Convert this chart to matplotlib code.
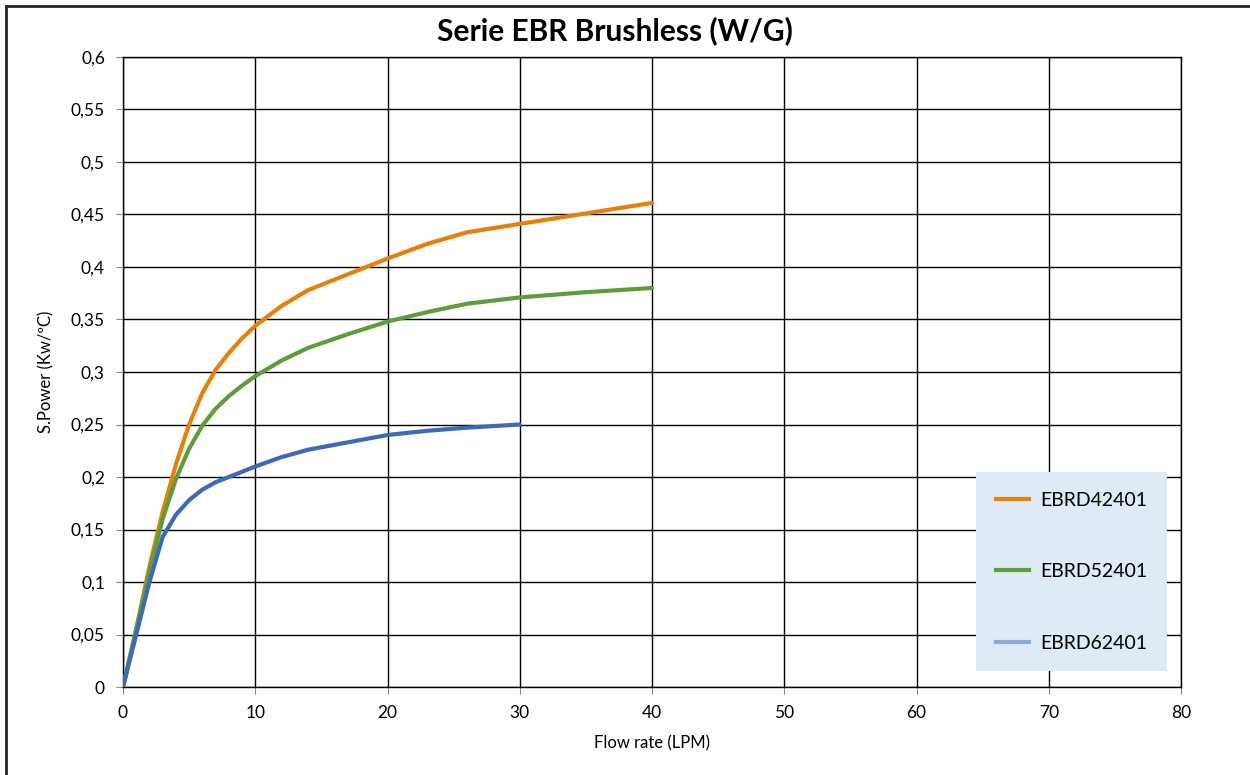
import matplotlib.pyplot as plt
from matplotlib.lines import Line2D
from matplotlib.patches import Rectangle
from matplotlib.ticker import FuncFormatter

plt.rcParams['font.family'] = ['Lato', 'DejaVu Sans']

# values
x_42 = [0, 1, 2, 3, 4, 5, 6, 7, 8, 9, 10, 12, 14, 17, 20, 23, 26, 30, 35, 40]
y_42 = [0, 0.055, 0.115, 0.167, 0.212, 0.25, 0.28, 0.302, 0.318, 0.332, 0.344,
        0.363, 0.378, 0.393, 0.408, 0.422, 0.433, 0.441, 0.451, 0.461]

x_52 = [0, 1, 2, 3, 4, 5, 6, 7, 8, 9, 10, 12, 14, 17, 20, 23, 26, 30, 35, 40]
y_52 = [0, 0.055, 0.11, 0.16, 0.198, 0.227, 0.249, 0.265, 0.277, 0.287, 0.296,
        0.311, 0.323, 0.336, 0.348, 0.357, 0.365, 0.371, 0.376, 0.38]

x_62 = [0, 1, 2, 3, 4, 5, 6, 7, 8, 9, 10, 12, 14, 17, 20, 23, 26, 30]
y_62 = [0, 0.05, 0.1, 0.143, 0.164, 0.178, 0.188, 0.195, 0.2, 0.205, 0.21,
        0.219, 0.226, 0.233, 0.240, 0.244, 0.247, 0.25]

labels = ['EBRD42401', 'EBRD52401', 'EBRD62401']
line_colors = ['#E6800A', '#5E9C3C', '#3D69B5']
legend_colors = ['#E6800A', '#5E9C3C', '#8FA9DB']

fig = plt.figure(figsize=(12.5, 7.75), dpi=100)
ax = fig.add_axes([0.0984, 0.1135, 0.8464, 0.813])

for xs, ys, c in zip([x_42, x_52, x_62], [y_42, y_52, y_62], line_colors):
    ax.plot(xs, ys, color=c, lw=3, solid_capstyle='round',
            solid_joinstyle='round', zorder=3)

ax.set_xlim(0, 80)
ax.set_ylim(0, 0.6)
ax.set_xticks(range(0, 81, 10))
ax.set_yticks([i * 0.05 for i in range(13)])

def comma(v, pos):
    s = ('%.2f' % v).rstrip('0').rstrip('.')
    return s.replace('.', ',')

ax.yaxis.set_major_formatter(FuncFormatter(comma))
ax.grid(True, color='black', lw=1)
ax.set_axisbelow(True)
for sp in ax.spines.values():
    sp.set_color('black')
    sp.set_linewidth(1)
ax.tick_params(axis='both', labelsize=12.5, length=5, color='#888888', pad=8)

ax.set_xlabel('Flow rate (LPM)', fontsize=12, labelpad=10)
ax.set_ylabel('S.Power (Kw/ºC)', fontsize=12, labelpad=12)
fig.text(0.492, 0.961, 'Serie EBR Brushless (W/G)', ha='center', va='center',
         fontsize=21.5, fontweight='bold')

handles = [Line2D([0], [0], color=c, lw=3) for c in legend_colors]
leg = ax.legend(handles, labels, loc='lower right', bbox_to_anchor=(0.9868, 0.0254),
                fontsize=14, frameon=True, fancybox=False, labelspacing=2.8,
                borderpad=1.0, borderaxespad=0, handlelength=1.7,
                handletextpad=0.6)
leg.get_frame().set_facecolor('#DEEAF6')
leg.get_frame().set_edgecolor('none')
leg.get_frame().set_alpha(1)

# outer chart border (left/top visible)
fig.patches.append(Rectangle((6 / 1250, -0.01), 1.1, 1 - 6 / 775 + 0.01,
                             transform=fig.transFigure, fill=False,
                             edgecolor='#222222', lw=2))

plt.savefig('out.png', dpi=100)
